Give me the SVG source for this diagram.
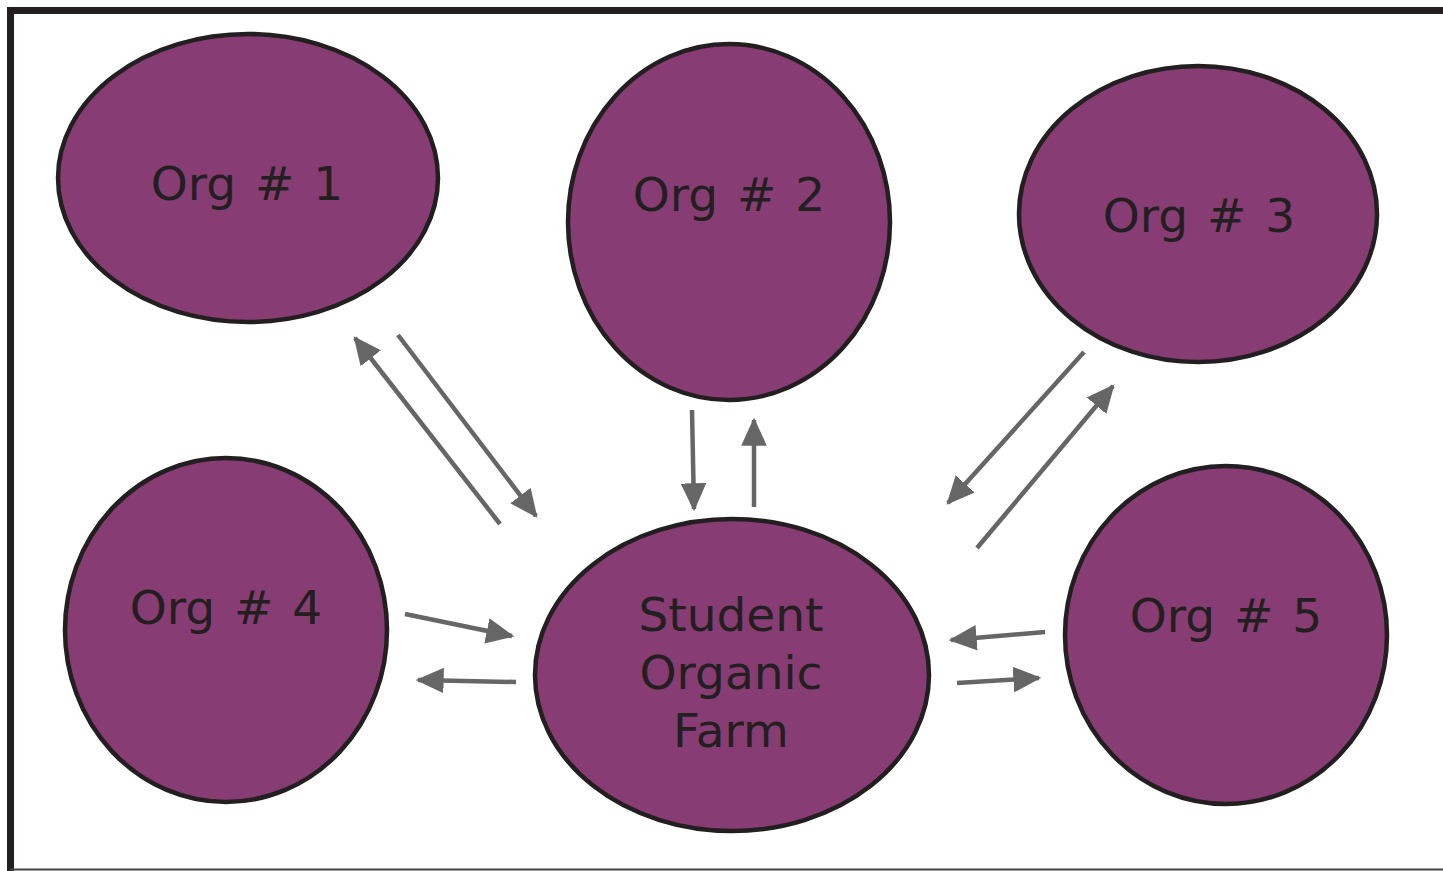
<svg xmlns="http://www.w3.org/2000/svg" width="1443" height="871" viewBox="0 0 1443 871">
<style>
.node{fill:#873c73;stroke:#231f20;stroke-width:4.5}
.lbl{font-family:"DejaVu Sans",Verdana,sans-serif;font-size:47px;fill:#231f20;text-anchor:middle}
.org{word-spacing:4px}
.conn{stroke:#666;stroke-width:4.5;fill:none;marker-end:url(#ah)}
</style>
<defs>
<marker id="ah" markerUnits="userSpaceOnUse" markerWidth="28" markerHeight="28" viewBox="0 0 24 24" refX="22" refY="12" orient="auto">
<path d="M0,1 L24,12 L0,23 Z" fill="#666"/>
</marker>
</defs>
<rect x="0" y="0" width="1443" height="871" fill="#fff"/>
<path d="M10.5,871 V10.5 H1443" fill="none" stroke="#231f20" stroke-width="7"/>
<line x1="10" y1="869.5" x2="1443" y2="869.5" stroke="#444" stroke-width="2"/>
<g id="org1"><ellipse class="node" cx="248" cy="178" rx="190" ry="144"/><text class="lbl org" x="247" y="200">Org # 1</text></g>
<g id="org2"><ellipse class="node" cx="729" cy="222" rx="161" ry="178"/><text class="lbl org" x="729" y="211">Org # 2</text></g>
<g id="org3"><ellipse class="node" cx="1198" cy="214" rx="179" ry="148"/><text class="lbl org" x="1199" y="232">Org # 3</text></g>
<g id="org4"><ellipse class="node" cx="226" cy="630" rx="161" ry="172"/><text class="lbl org" x="226" y="624">Org # 4</text></g>
<g id="org5"><ellipse class="node" cx="1226" cy="635" rx="161" ry="169"/><text class="lbl org" x="1226" y="632">Org # 5</text></g>
<g id="farm"><ellipse class="node" cx="732" cy="675" rx="197" ry="156"/><text class="lbl" x="731" y="631">Student</text><text class="lbl" x="731" y="689">Organic</text><text class="lbl" x="731" y="747">Farm</text></g>
<g id="connectors">
<line class="conn" x1="500" y1="524" x2="355" y2="338"/>
<line class="conn" x1="398" y1="335" x2="536" y2="516"/>
<line class="conn" x1="692" y1="410" x2="694" y2="509"/>
<line class="conn" x1="754" y1="507" x2="754" y2="420"/>
<line class="conn" x1="1084" y1="352" x2="948" y2="503"/>
<line class="conn" x1="977" y1="548" x2="1113" y2="386"/>
<line class="conn" x1="405" y1="614" x2="512" y2="636"/>
<line class="conn" x1="516" y1="682" x2="418" y2="680"/>
<line class="conn" x1="1045" y1="632" x2="951" y2="640"/>
<line class="conn" x1="957" y1="683" x2="1039" y2="678"/>
</g>
</svg>
